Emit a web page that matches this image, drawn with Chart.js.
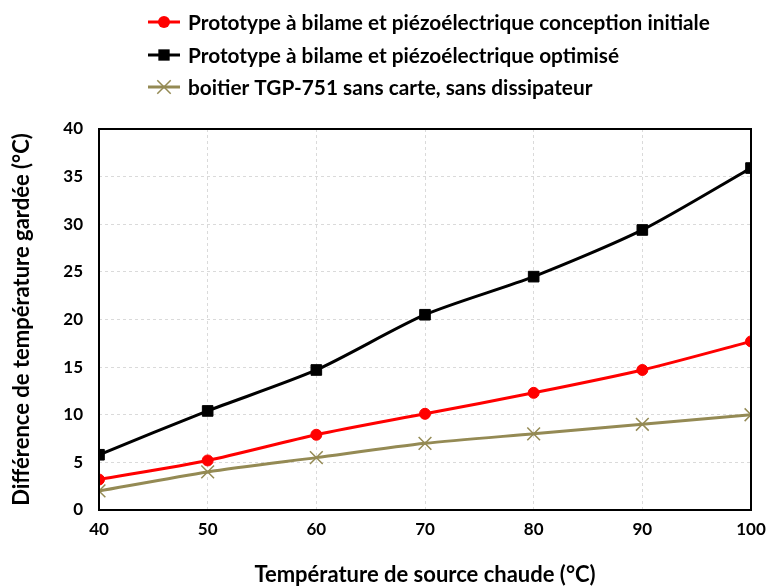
<!DOCTYPE html>
<html>
<head>
<meta charset="utf-8">
<script src="https://cdn.jsdelivr.net/npm/chart.js@4/dist/chart.umd.min.js"></script>
<style>
  body { margin: 0; background: #fff; }
  #wrap { width: 768px; height: 588px; }
</style>
</head>
<body>
<div id="wrap"><canvas id="chart" width="768" height="588"></canvas></div>
<script>
// data
const temps = [40, 50, 60, 70, 80, 90, 100];
const initiale = [3.2, 5.2, 7.9, 10.1, 12.3, 14.7, 17.7];
const optimise = [5.8, 10.4, 14.7, 20.5, 24.5, 29.4, 35.9];
const boitier = [2, 4, 5.5, 7, 8, 9, 10];
const yTicks = [0, 5, 10, 15, 20, 25, 30, 35, 40];

const FONT = 'Lato, "Open Sans", sans-serif';

function pts(vals) {
  return temps.map((t, i) => ({ x: t, y: vals[i] }));
}

function marker(ctx, style, x, y, r, color) {
  ctx.save();
  ctx.fillStyle = color;
  ctx.strokeStyle = color;
  ctx.beginPath();
  if (style === 'circle') {
    ctx.arc(x, y, r, 0, Math.PI * 2);
    ctx.fill();
  } else if (style === 'rect') {
    const s = Math.SQRT1_2 * r;
    ctx.fillRect(x - s, y - s, 2 * s, 2 * s);
  } else if (style === 'crossRot') {
    const s = Math.SQRT1_2 * r;
    ctx.lineWidth = 1.5;
    ctx.moveTo(x - s, y - s); ctx.lineTo(x + s, y + s);
    ctx.moveTo(x - s, y + s); ctx.lineTo(x + s, y - s);
    ctx.stroke();
  }
  ctx.restore();
}

// frame around the plot + legend stacked at the top
const extras = {
  id: 'extras',
  afterDraw(chart) {
    const ctx = chart.ctx;
    const a = chart.chartArea;
    ctx.save();
    ctx.strokeStyle = '#000';
    ctx.lineWidth = 2;
    ctx.strokeRect(a.left, a.top, a.right - a.left, a.bottom - a.top);

    const rows = [22, 55, 87];
    chart.data.datasets.forEach((ds, i) => {
      const y = rows[i];
      ctx.strokeStyle = ds.borderColor;
      ctx.lineWidth = 3;
      ctx.beginPath();
      ctx.moveTo(148, y);
      ctx.lineTo(180, y);
      ctx.stroke();
      marker(ctx, ds.pointStyle, 164, y, ds.pointRadius + 0.5, ds.borderColor);
      ctx.fillStyle = '#000';
      ctx.font = 'bold 20.8px ' + FONT;
      ctx.textBaseline = 'middle';
      ctx.textAlign = 'left';
      ctx.fillText(ds.label, 188, y + 1);
    });
    ctx.restore();
  }
};

new Chart(document.getElementById('chart'), {
  type: 'line',
  data: {
    datasets: [{
      label: 'Prototype à bilame et piézoélectrique conception initiale',
      data: pts(initiale),
      borderColor: '#ff0000',
      backgroundColor: '#ff0000',
      borderWidth: 3,
      pointStyle: 'circle',
      pointRadius: 5.5,
      pointBorderWidth: 1,
      tension: 0.25
    }, {
      label: 'Prototype à bilame et piézoélectrique optimisé',
      data: pts(optimise),
      borderColor: '#000000',
      backgroundColor: '#000000',
      borderWidth: 3,
      pointStyle: 'rect',
      pointRadius: 7.5,
      pointBorderWidth: 1,
      tension: 0.25
    }, {
      label: 'boitier TGP-751 sans carte, sans dissipateur',
      data: pts(boitier),
      borderColor: '#948a54',
      backgroundColor: '#948a54',
      borderWidth: 3,
      pointStyle: 'crossRot',
      pointRadius: 9,
      pointBorderWidth: 1.5,
      tension: 0.25
    }]
  },
  options: {
    responsive: false,
    animation: false,
    layout: { padding: { top: 129, right: 0, left: 0, bottom: 0 } },
    plugins: {
      legend: { display: false },
      tooltip: { enabled: false }
    },
    scales: {
      x: {
        type: 'linear',
        min: 40,
        max: 100,
        afterFit(s) {
          s.height = 78;
          s.paddingLeft = 0;
          s.paddingRight = 17;
        },
        ticks: {
          stepSize: 10,
          padding: 9,
          color: '#000',
          font: { family: FONT, size: 17, weight: 'bold' }
        },
        grid: { color: '#dadada', drawTicks: false },
        border: { display: false, dash: [3, 3] },
        title: {
          display: true,
          text: 'Température de source chaude (°C)',
          color: '#000',
          padding: { top: 4, bottom: 0 },
          font: { family: FONT, size: 22, weight: 'bold' }
        }
      },
      y: {
        min: 0,
        max: 40,
        afterFit(s) { s.width = 99; },
        afterBuildTicks(s) { s.ticks = yTicks.map(v => ({ value: v })); },
        ticks: {
          padding: 16,
          color: '#000',
          font: { family: FONT, size: 17, weight: 'bold' }
        },
        grid: { color: '#dadada', drawTicks: false },
        border: { display: false, dash: [3, 3] },
        title: {
          display: true,
          text: 'Différence de température gardée (°C)',
          color: '#000',
          padding: { top: 9, bottom: 4 },
          font: { family: FONT, size: 22, weight: 'bold' }
        }
      }
    }
  },
  plugins: [extras]
});
</script>
</body>
</html>
